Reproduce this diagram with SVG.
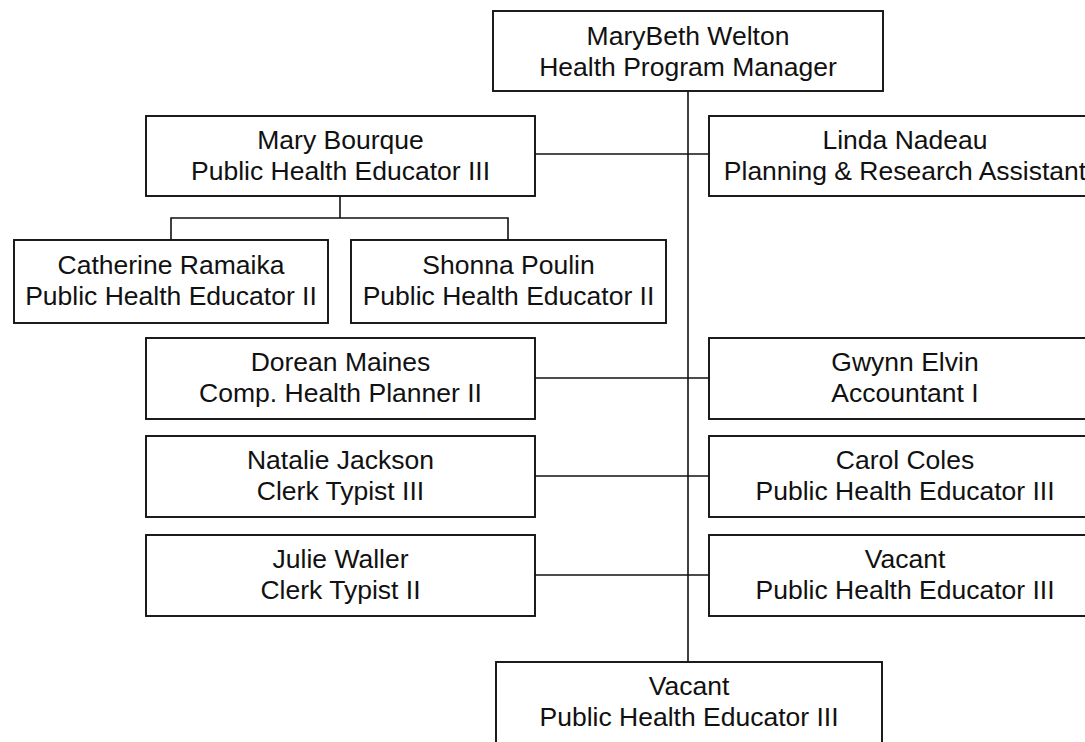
<svg xmlns="http://www.w3.org/2000/svg" width="1085" height="742" viewBox="0 0 1085 742">
  <style>
    .box { fill: #ffffff; stroke: #111111; stroke-width: 1.9; }
    .lbl { font-family: "Liberation Sans", Arial, sans-serif; font-size: 26.5px; fill: #111111; text-anchor: middle; }
    .conn { stroke: #111111; stroke-width: 1.6; fill: none; }
  </style>
  <rect x="0" y="0" width="1085" height="742" fill="#ffffff"/>

  <!-- reporting lines -->
  <g id="connectors">
    <line class="conn" x1="688" y1="91" x2="688" y2="662"/>
    <line class="conn" x1="535" y1="154" x2="709" y2="154"/>
    <polyline class="conn" points="340,196 340,218"/>
    <polyline class="conn" points="171,240 171,218 508,218 508,240"/>
    <line class="conn" x1="535" y1="378" x2="709" y2="378"/>
    <line class="conn" x1="535" y1="476" x2="709" y2="476"/>
    <line class="conn" x1="535" y1="575" x2="709" y2="575"/>
  </g>

  <g id="node-welton">
    <rect class="box" x="493" y="11" width="390" height="80"/>
    <text class="lbl" x="688" y="45">MaryBeth Welton</text>
    <text class="lbl" x="688" y="76">Health Program Manager</text>
  </g>

  <g id="node-bourque">
    <rect class="box" x="146" y="116" width="389" height="80"/>
    <text class="lbl" x="340.5" y="149">Mary Bourque</text>
    <text class="lbl" x="340.5" y="180">Public Health Educator III</text>
  </g>

  <g id="node-nadeau">
    <rect class="box" x="709" y="116" width="392" height="80"/>
    <text class="lbl" x="905" y="149">Linda Nadeau</text>
    <text class="lbl" x="905" y="180">Planning &amp; Research Assistant</text>
  </g>

  <g id="node-ramaika">
    <rect class="box" x="14" y="240" width="314" height="83"/>
    <text class="lbl" x="171" y="274">Catherine Ramaika</text>
    <text class="lbl" x="171" y="305">Public Health Educator II</text>
  </g>

  <g id="node-poulin">
    <rect class="box" x="351" y="240" width="315" height="83"/>
    <text class="lbl" x="508.5" y="274">Shonna Poulin</text>
    <text class="lbl" x="508.5" y="305">Public Health Educator II</text>
  </g>

  <g id="node-maines">
    <rect class="box" x="146" y="338" width="389" height="81"/>
    <text class="lbl" x="340.5" y="371">Dorean Maines</text>
    <text class="lbl" x="340.5" y="402">Comp. Health Planner II</text>
  </g>

  <g id="node-elvin">
    <rect class="box" x="709" y="338" width="392" height="81"/>
    <text class="lbl" x="905" y="371">Gwynn Elvin</text>
    <text class="lbl" x="905" y="402">Accountant I</text>
  </g>

  <g id="node-jackson">
    <rect class="box" x="146" y="436" width="389" height="81"/>
    <text class="lbl" x="340.5" y="469">Natalie Jackson</text>
    <text class="lbl" x="340.5" y="500">Clerk Typist III</text>
  </g>

  <g id="node-coles">
    <rect class="box" x="709" y="436" width="392" height="81"/>
    <text class="lbl" x="905" y="469">Carol Coles</text>
    <text class="lbl" x="905" y="500">Public Health Educator III</text>
  </g>

  <g id="node-waller">
    <rect class="box" x="146" y="535" width="389" height="81"/>
    <text class="lbl" x="340.5" y="568">Julie Waller</text>
    <text class="lbl" x="340.5" y="599">Clerk Typist II</text>
  </g>

  <g id="node-vacant-right">
    <rect class="box" x="709" y="535" width="392" height="81"/>
    <text class="lbl" x="905" y="568">Vacant</text>
    <text class="lbl" x="905" y="599">Public Health Educator III</text>
  </g>

  <g id="node-vacant-bottom">
    <rect class="box" x="496" y="662" width="386" height="90"/>
    <text class="lbl" x="689" y="695">Vacant</text>
    <text class="lbl" x="689" y="726">Public Health Educator III</text>
  </g>
</svg>
